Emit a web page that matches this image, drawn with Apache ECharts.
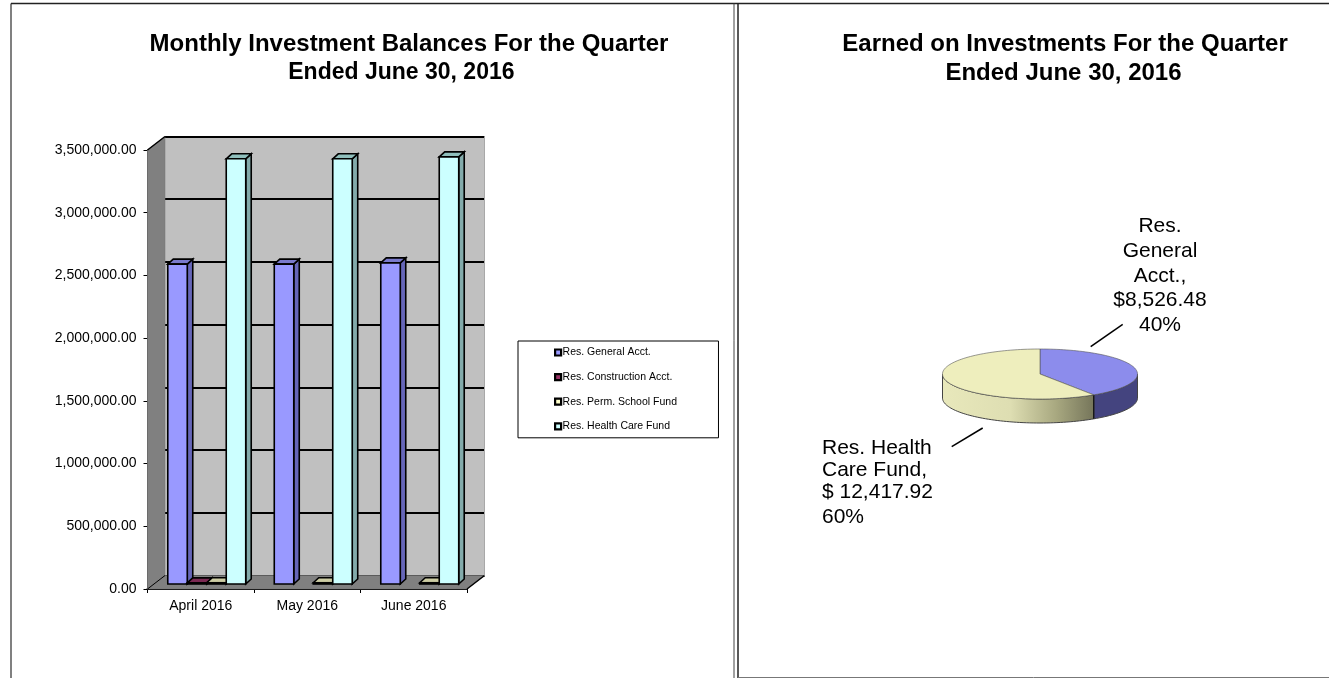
<!DOCTYPE html>
<html><head><meta charset="utf-8">
<style>html,body{margin:0;padding:0;background:#fff}#c{width:1329px;height:678px}</style>
<script src="https://cdn.jsdelivr.net/npm/echarts@6/dist/echarts.min.js"></script>
</head><body><div id="c"></div>
<script>
const months = ['April 2016','May 2016','June 2016'];
const generalAcct = [2550000,2550000,2560000];
const constructionAcct = [9000,0,0];
const permSchoolFund = [10000,10000,10000];
const healthCareFund = [3390000,3390000,3405000];
const seriesNames = ['Res. General Acct.','Res. Construction Acct.','Res. Perm. School Fund','Res. Health Care Fund'];
const faceColors = ['#9999ff','#993366','#ffffcc','#ccffff'];
const sideColors = ['#6666b8','#6e2449','#b8b893','#83abab'];
const topColors = ['#7a7acc','#7a2952','#cccca3','#8fbfbc'];
const yTicks = ['0.00','500,000.00','1,000,000.00','1,500,000.00','2,000,000.00','2,500,000.00','3,000,000.00','3,500,000.00'];
const pieNames = ['Res. General Acct.','Res. Health Care Fund'];
const pieValues = [8526.48,12417.92];
const pieAmountLabels = ['$8,526.48','$ 12,417.92'];
const pieShares = ['40%','60%'];

const FONT='"Liberation Sans",Arial,sans-serif';
const DX=17.5, DY=13.5;
const BX=6, BY=5, BD=5.5, BH=5;

function poly(points,fill,stroke,w){return {type:'polygon',shape:{points},style:{fill,stroke:stroke||'#000',lineWidth:w==null?1.6:w}};}

function barSeries(idx,data){
  return {type:'custom',name:seriesNames[idx],xAxisIndex:0,yAxisIndex:0,z:5,clip:false,
    itemStyle:{color:faceColors[idx]},
    data:data.map((v,i)=>[i,v]),
    encode:{x:0,y:1},
    renderItem(p,api){
      const c=api.coord([api.value(0),api.value(1)]);
      const o=api.coord([api.value(0),0]);
      const band=api.size([1,0])[0];
      const w=band*0.183;
      const x0=c[0]+(idx-2)*w+BX, x1=x0+w;
      const yb=o[1]-BY, yt=c[1]-BY;
      if(api.value(1)<=0) return {type:'group',children:[]};
      return {type:'group',children:[
        poly([[x1,yt],[x1+BD,yt-BH],[x1+BD,yb-BH],[x1,yb]],sideColors[idx]),
        poly([[x0,yt],[x0+BD,yt-BH],[x1+BD,yt-BH],[x1,yt]],topColors[idx]),
        {type:'rect',shape:{x:x0,y:yt,width:w,height:yb-yt},style:{fill:faceColors[idx],stroke:'#000',lineWidth:1.6}}
      ]};
    }};
}

const boxSeries={type:'custom',xAxisIndex:0,yAxisIndex:0,z:1,clip:false,silent:true,
  data:[[0,0]],
  renderItem(p,api){
    const r=p.coordSys, L=r.x, R=r.x+r.width, T=r.y, B=r.y+r.height;
    return {type:'group',children:[
      poly([[L,B],[L+DX,B-DY],[L+DX,T-DY],[L,T]],'#808080','#777',0.5),
      poly([[L,B],[L+DX,B-DY],[R+DX,B-DY],[R,B]],'#808080','#777',0.5),
      {type:'line',shape:{x1:R,y1:B,x2:R+DX,y2:B-DY},style:{stroke:'#000',lineWidth:1.5}},
      {type:'line',shape:{x1:L,y1:B,x2:L+DX,y2:B-DY},style:{stroke:'#000',lineWidth:1}},
      {type:'line',shape:{x1:L,y1:T,x2:L+DX,y2:T-DY},style:{stroke:'#000',lineWidth:1.5}},
      {type:'line',shape:{x1:R+DX,y1:B-DY,x2:R+DX,y2:T-DY},style:{stroke:'#a8a8a8',lineWidth:1}}
    ]};
  }};

const PIE={cx:1040,cy:374,rx:97.5,ry:25,h:24};
const total=pieValues.reduce((a,b)=>a+b,0);
const splitDeg=pieValues[0]/total*360;
function ell(deg,dy){const r=deg*Math.PI/180;return [PIE.cx+PIE.rx*Math.sin(r),PIE.cy-PIE.ry*Math.cos(r)+(dy||0)];}
function wall(a0,a1){const pts=[];for(let a=a0;a<=a1;a+=2)pts.push(ell(a));pts.push(ell(a1));for(let a=a1;a>=a0;a-=2)pts.push(ell(a,PIE.h));pts.push(ell(a0,PIE.h));return pts;}
function topSlice(a0,a1){const pts=[[PIE.cx,PIE.cy]];for(let a=a0;a<a1;a+=2)pts.push(ell(a));pts.push(ell(a1));return pts;}
const pieSeries={type:'custom',coordinateSystem:'none',z:5,silent:true,data:[pieValues[0]],
  renderItem(){
    const grad={type:'linear',x:1,y:0,x2:0,y2:0,colorStops:[{offset:0,color:'#75755a'},{offset:.25,color:'#a8a880'},{offset:.55,color:'#dedeb2'},{offset:1,color:'#e8e8bb'}]};
    return {type:'group',children:[
      {type:'polygon',shape:{points:wall(90,splitDeg)},style:{fill:'#44447f',stroke:'#444',lineWidth:1}},
      {type:'polygon',shape:{points:wall(splitDeg,270)},style:{fill:grad,stroke:'#444',lineWidth:1}},
      {type:'line',shape:{x1:ell(splitDeg)[0],y1:ell(splitDeg)[1],x2:ell(splitDeg)[0],y2:ell(splitDeg,PIE.h)[1]},style:{stroke:'#111',lineWidth:1.2}},
      {type:'polygon',shape:{points:topSlice(0,splitDeg)},style:{fill:'#8c8cec',stroke:'#555',lineWidth:.6}},
      {type:'polygon',shape:{points:topSlice(splitDeg,360)},style:{fill:'#eeeebd',stroke:'#555',lineWidth:.6}}
    ]};
  }};

const labelFont={fontFamily:FONT,fontSize:21,fill:'#000'};
const ts=(s)=>({fontFamily:FONT,fontWeight:'bold',fontSize:s,color:'#000'});
const chart=echarts.init(document.getElementById('c'),null,{renderer:'canvas'});
chart.setOption({
  animation:false,backgroundColor:'#fff',
  title:[
    {text:'Monthly Investment Balances For the Quarter',left:404,top:27,textAlign:'center',textStyle:ts(24)},
    {text:'Ended June 30, 2016',left:396.4,top:56,textAlign:'center',textStyle:ts(23)},
    {text:'Earned on Investments For the Quarter',left:1060,top:27,textAlign:'center',textStyle:ts(24)},
    {text:'Ended June 30, 2016',left:1058.5,top:56,textAlign:'center',textStyle:ts(24)}
  ],
  legend:{data:seriesNames,orient:'vertical',left:518,top:341,itemWidth:6,itemHeight:6,itemGap:13.6,
    padding:[6,41.5,6,36],borderColor:'#000',borderWidth:1,backgroundColor:'#fff',icon:'rect',selectedMode:false,
    itemStyle:{borderColor:'#000',borderWidth:2.2},
    textStyle:{fontFamily:FONT,fontSize:10.5,color:'#000',padding:[0,0,0,-3.5]}},
  grid:[
    {left:147.5,width:319.5,top:150,height:439,show:false},
    {left:165,width:319.5,top:136.5,height:439,show:true,backgroundColor:'#c0c0c0',borderWidth:0}
  ],
  xAxis:[
    {type:'category',gridIndex:0,data:months,axisLine:{show:true,lineStyle:{color:'#000',width:2}},
     axisTick:{show:true,length:4,lineStyle:{color:'#000'}},
     axisLabel:{fontFamily:FONT,fontSize:14,color:'#000',margin:10},boundaryGap:true},
    {type:'category',gridIndex:1,data:months,axisLine:{show:false},axisTick:{show:false},axisLabel:{show:false}}
  ],
  yAxis:[
    {type:'value',gridIndex:0,min:0,max:3500000,interval:500000,
     axisLine:{show:true,lineStyle:{color:'#000',width:1.5}},axisTick:{show:true,length:4,lineStyle:{color:'#000'}},
     splitLine:{show:false},
     axisLabel:{fontFamily:FONT,fontSize:14,color:'#000',margin:11,formatter:(v)=>yTicks[Math.round(v/500000)]}},
    {type:'value',gridIndex:1,min:0,max:3500000,interval:500000,axisLine:{show:false},axisTick:{show:false},axisLabel:{show:false},
     splitLine:{show:true,lineStyle:{color:'#000',width:2}}}
  ],
  series:[
    boxSeries,
    barSeries(0,generalAcct),barSeries(1,constructionAcct),barSeries(2,permSchoolFund),barSeries(3,healthCareFund),
    pieSeries
  ],
  graphic:[
    {type:'line',z:0,shape:{x1:11,y1:3.5,x2:11,y2:678},style:{stroke:'#808080',lineWidth:2}},
    {type:'line',z:0,shape:{x1:11,y1:3.5,x2:1329,y2:3.5},style:{stroke:'#222',lineWidth:1.5}},
    {type:'line',z:0,shape:{x1:734,y1:3.5,x2:734,y2:678},style:{stroke:'#444',lineWidth:1}},
    {type:'line',z:0,shape:{x1:738,y1:3.5,x2:738,y2:678},style:{stroke:'#222',lineWidth:1.5}},
    {type:'line',z:0,shape:{x1:738,y1:677.5,x2:1329,y2:677.5},style:{stroke:'#777',lineWidth:1}},
    {type:'line',shape:{x1:1090.7,y1:346.7,x2:1122.7,y2:324.3},style:{stroke:'#000',lineWidth:1.5}},
    {type:'line',shape:{x1:951.7,y1:446.7,x2:982.7,y2:428},style:{stroke:'#000',lineWidth:1.5}},
    {type:'text',x:1160,y:214,style:{...labelFont,lineHeight:24.7,text:['Res.','General','Acct.,',pieAmountLabels[0],pieShares[0]].join('\n'),align:'center'}},
    {type:'text',x:822,y:437,style:{...labelFont,lineHeight:22,text:['Res. Health','Care Fund,',pieAmountLabels[1]].join('\n'),align:'left'}},
    {type:'text',x:822,y:505,style:{...labelFont,lineHeight:24,text:pieShares[1],align:'left'}}
  ]
});
</script></body></html>
